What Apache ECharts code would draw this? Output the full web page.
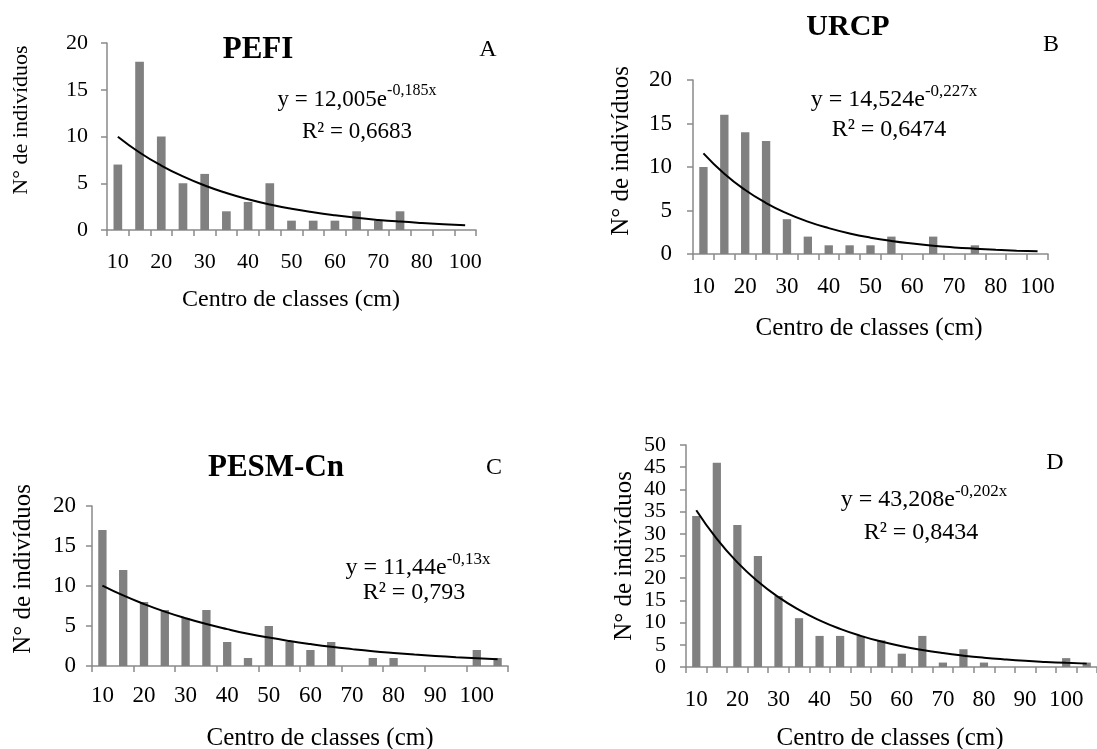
<!DOCTYPE html>
<html>
<head>
<meta charset="utf-8">
<script src="https://cdn.jsdelivr.net/npm/echarts@6/dist/echarts.min.js"></script>
<style>
  html, body { margin: 0; padding: 0; background: #fff; }
  #chart { width: 1097px; height: 749px; }
</style>
</head>
<body>
<div id="chart"></div>
<script>
// class centres (cm) on the category axes
const classesAB = ['10', '15', '20', '25', '30', '35', '40', '45', '50', '55', '60', '65', '70', '75', '80', '90', '100'];
const classesCD = ['10', '15', '20', '25', '30', '35', '40', '45', '50', '55', '60', '65', '70', '75', '80', '85', '90', '95', '100', '105'];

// number of individuals per class
const pefiCounts = [7, 18, 10, 5, 6, 2, 3, 5, 1, 1, 1, 2, 1, 2, 0, 0, 0];
const urcpCounts = [10, 16, 14, 13, 4, 2, 1, 1, 1, 2, 0, 2, 0, 1, 0, 0, 0];
const pesmCounts = [17, 12, 8, 7, 6, 7, 3, 1, 5, 3, 2, 3, 0, 1, 1, 0, 0, 0, 2, 1];
const dCounts = [34, 46, 32, 25, 16, 11, 7, 7, 7, 6, 3, 7, 1, 4, 1, 0, 0, 0, 2, 1];

// exponential trend lines at each class
const pefiTrend = [9.98, 8.29, 6.89, 5.73, 4.76, 3.96, 3.29, 2.73, 2.27, 1.89, 1.57, 1.30, 1.08, 0.90, 0.75, 0.62, 0.52];
const urcpTrend = [11.57, 9.22, 7.35, 5.86, 4.67, 3.72, 2.97, 2.36, 1.88, 1.50, 1.20, 0.95, 0.76, 0.61, 0.48, 0.38, 0.31];
const pesmTrend = [10.05, 8.82, 7.75, 6.80, 5.97, 5.24, 4.61, 4.04, 3.55, 3.12, 2.74, 2.40, 2.11, 1.85, 1.63, 1.43, 1.26, 1.10, 0.97, 0.85];
const dTrend = [35.31, 28.85, 23.57, 19.26, 15.74, 12.86, 10.51, 8.59, 7.02, 5.73, 4.68, 3.83, 3.13, 2.56, 2.09, 1.71, 1.39, 1.14, 0.93, 0.76];

const FONT = '"Liberation Serif", "Times New Roman", serif';
const AXIS_GRAY = '#8a8a8a';
const BAR_GRAY = '#808080';

// 1. panel layout (pixels)
const panels = [
    { left: 107, top: 43, width: 369, height: 187, cats: classesAB, counts: pefiCounts, trend: pefiTrend,
      max: 20, tickEvery: 0, yFont: 22, xFont: 22, yMargin: 19, xMargin: 21 },
    { left: 693, top: 80, width: 355, height: 174, cats: classesAB, counts: urcpCounts, trend: urcpTrend,
      max: 20, tickEvery: 0, yFont: 23, xFont: 23, yMargin: 21, xMargin: 21 },
    { left: 92, top: 506, width: 416, height: 160, cats: classesCD, counts: pesmCounts, trend: pesmTrend,
      max: 20, tickEvery: 1, yFont: 23, xFont: 23, yMargin: 16, xMargin: 18 },
    { left: 686, top: 445, width: 417, height: 222, cats: classesCD, counts: dCounts, trend: dTrend,
      max: 50, tickEvery: 0, yFont: 22, xFont: 23, yMargin: 20, xMargin: 21 }
];

const grids = [], xAxes = [], yAxes = [], series = [];

panels.forEach((p, i) => {
    grids.push({ left: p.left, top: p.top, width: p.width, height: p.height });

    xAxes.push({
        type: 'category', gridIndex: i, data: p.cats, boundaryGap: true,
        axisLine: { lineStyle: { color: AXIS_GRAY, width: 1.5 } },
        axisTick: { show: true, interval: p.tickEvery, length: 6, inside: false,
                    lineStyle: { color: AXIS_GRAY, width: 1.5 } },
        axisLabel: { interval: 1, color: '#000', fontFamily: FONT, fontSize: p.xFont, margin: p.xMargin },
        splitLine: { show: false }
    });

    yAxes.push({
        type: 'value', gridIndex: i, min: 0, max: p.max, interval: 5,
        axisLine: { show: true, lineStyle: { color: AXIS_GRAY, width: 1.5 } },
        axisTick: { show: true, length: 6, lineStyle: { color: AXIS_GRAY, width: 1.5 } },
        axisLabel: { color: '#000', fontFamily: FONT, fontSize: p.yFont, margin: p.yMargin },
        splitLine: { show: false }
    });

    series.push({
        type: 'bar', xAxisIndex: i, yAxisIndex: i, data: p.counts,
        barWidth: '40%', itemStyle: { color: BAR_GRAY }
    });
    series.push({
        type: 'line', xAxisIndex: i, yAxisIndex: i, data: p.trend, smooth: true,
        symbol: 'none', z: 5, lineStyle: { color: '#000', width: 2 }
    });
});

// 2. texts: titles, panel letters, equations, axis names
function label(x, y, text, size, bold) {
    return {
        type: 'text', x: x, y: y, z: 10,
        style: { text: text, fill: '#000', font: (bold ? 'bold ' : '') + size + 'px ' + FONT,
                 align: 'center', verticalAlign: 'middle' }
    };
}

function equation(x, y, base, power, size, supSize) {
    return {
        type: 'text', x: x, y: y, z: 10,
        style: {
            text: '{m|' + base + '}{s|' + power + '}',
            align: 'center', verticalAlign: 'middle',
            rich: {
                m: { fontFamily: FONT, fontSize: size, fill: '#000', lineHeight: 34, verticalAlign: 'middle' },
                s: { fontFamily: FONT, fontSize: supSize, fill: '#000', lineHeight: 12, verticalAlign: 'top' }
            }
        }
    };
}

function yName(x, y, size) {
    const t = label(x, y, 'N° de indivíduos', size, false);
    t.rotation = Math.PI / 2;
    return t;
}

const graphics = [
    // A
    label(258, 50, 'PEFI', 31, true),
    label(488, 50, 'A', 24, false),
    equation(357, 100, 'y = 12,005e', '-0,185x', 23, 16),
    label(357, 132, 'R² = 0,6683', 23, false),
    label(291, 300, 'Centro de classes (cm)', 24, false),
    yName(21, 120, 22),
    // B
    label(848, 27, 'URCP', 30, true),
    label(1051, 45, 'B', 24, false),
    equation(894, 100, 'y = 14,524e', '-0,227x', 24, 17),
    label(889, 130, 'R² = 0,6474', 24, false),
    label(869, 328, 'Centro de classes (cm)', 25, false),
    yName(621, 151, 25),
    // C
    label(276, 468, 'PESM-Cn', 31, true),
    label(494, 468, 'C', 24, false),
    equation(418, 568, 'y = 11,44e', '-0,13x', 24, 17),
    label(414, 593, 'R² = 0,793', 24, false),
    label(320, 738, 'Centro de classes (cm)', 25, false),
    yName(23, 569, 25),
    // D
    label(1055, 463, 'D', 24, false),
    equation(924, 500, 'y = 43,208e', '-0,202x', 24, 17),
    label(921, 533, 'R² = 0,8434', 24, false),
    label(890, 738, 'Centro de classes (cm)', 25, false),
    yName(624, 556, 25)
];

const chart = echarts.init(document.getElementById('chart'));
chart.setOption({
    animation: false,
    backgroundColor: '#fff',
    grid: grids,
    xAxis: xAxes,
    yAxis: yAxes,
    series: series,
    graphic: graphics
});
</script>
</body>
</html>
